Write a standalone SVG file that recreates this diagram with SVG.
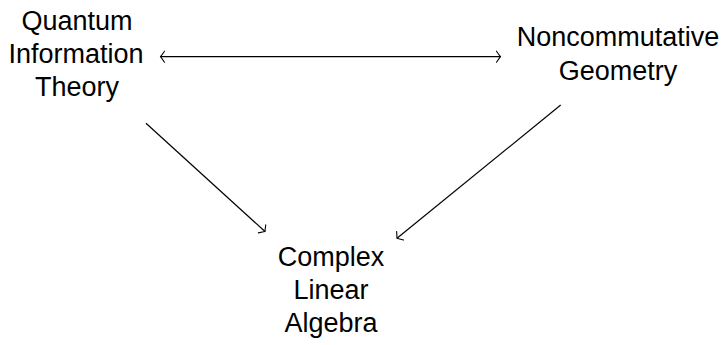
<svg xmlns="http://www.w3.org/2000/svg" width="724" height="345" viewBox="0 0 724 345">
<style>
text{font-family:"Liberation Sans",Arial,sans-serif;font-size:27px;fill:#000;text-anchor:middle}
.c{stroke:#000;stroke-width:1.2;fill:none}
</style>
<defs>
<marker id="to" markerUnits="userSpaceOnUse" markerWidth="14" markerHeight="14" viewBox="-7 -7 14 14" refX="0" refY="0" orient="auto-start-reverse">
<path d="M-4,-5.5 Q-1.2,-1.5 0,0 Q-1.2,1.5 -4,5.5" fill="none" stroke="#000" stroke-width="1.1" stroke-linecap="round"/>
</marker>
</defs>
<g id="qit">
<text x="77" y="30">Quantum</text>
<text x="76" y="63">Information</text>
<text x="77" y="96">Theory</text>
</g>
<g id="ncg">
<text x="618" y="46">Noncommutative</text>
<text x="618" y="80">Geometry</text>
</g>
<g id="cla">
<text x="331" y="266">Complex</text>
<text x="331" y="299">Linear</text>
<text x="331" y="332">Algebra</text>
</g>
<g id="connectors">
<line class="c" x1="160.5" y1="56.7" x2="500.5" y2="56.7" marker-start="url(#to)" marker-end="url(#to)"/>
<line class="c" x1="146" y1="123.3" x2="265" y2="231.5" marker-end="url(#to)"/>
<line class="c" x1="560.7" y1="105" x2="397" y2="238.3" marker-end="url(#to)"/>
</g>
</svg>
